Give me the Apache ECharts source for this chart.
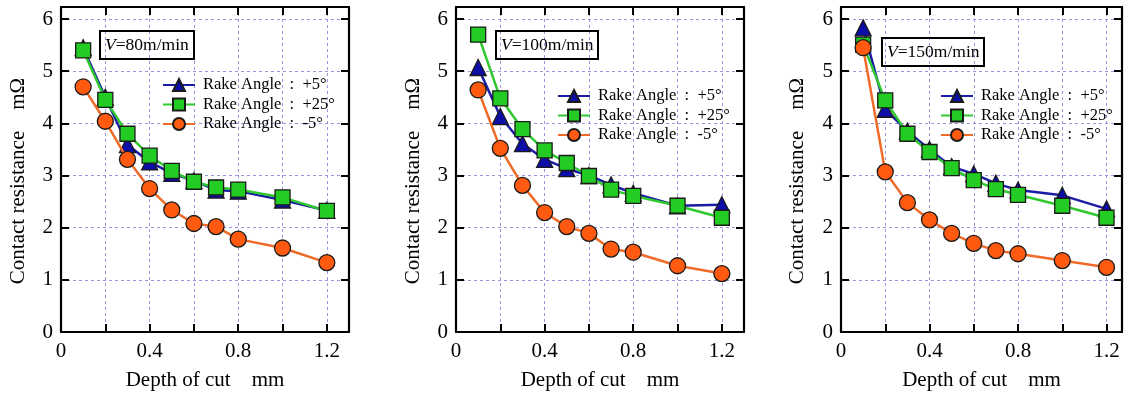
<!DOCTYPE html>
<html>
<head>
<meta charset="utf-8">
<script src="https://cdn.jsdelivr.net/npm/echarts@6/dist/echarts.min.js"></script>
<style>
html,body{margin:0;padding:0;background:#fff;}
#c{width:1126px;height:396px;}
</style>
</head>
<body>
<div id="c"></div>
<script>
// ---- data ----
const depthOfCut = [0.1, 0.2, 0.3, 0.4, 0.5, 0.6, 0.7, 0.8, 1.0, 1.2];
const seriesNames = ['Rake Angle  :  +5°', 'Rake Angle  :  +25°', 'Rake Angle  :  -5°'];
const panelTitles = ['80m/min', '100m/min', '150m/min'];

const v80_plus5  = [5.45, 4.50, 3.59, 3.26, 3.04, 2.90, 2.72, 2.70, 2.53, 2.33];
const v80_plus25 = [5.40, 4.45, 3.80, 3.38, 3.09, 2.88, 2.77, 2.73, 2.58, 2.32];
const v80_minus5 = [4.70, 4.04, 3.31, 2.75, 2.34, 2.08, 2.02, 1.78, 1.61, 1.33];

const v100_plus5  = [5.07, 4.13, 3.61, 3.31, 3.13, 3.00, 2.82, 2.66, 2.42, 2.44];
const v100_plus25 = [5.70, 4.48, 3.89, 3.48, 3.24, 2.99, 2.73, 2.61, 2.42, 2.19];
const v100_minus5 = [4.64, 3.52, 2.81, 2.29, 2.02, 1.89, 1.59, 1.53, 1.27, 1.12];

const v150_plus5  = [5.83, 4.27, 3.85, 3.50, 3.17, 3.03, 2.85, 2.72, 2.62, 2.36];
const v150_plus25 = [5.51, 4.44, 3.80, 3.45, 3.14, 2.91, 2.74, 2.63, 2.42, 2.19];
const v150_minus5 = [5.45, 3.07, 2.48, 2.15, 1.89, 1.70, 1.56, 1.50, 1.37, 1.24];

const xTickValues = [0, 0.4, 0.8, 1.2];
const yTickValues = [0, 1, 2, 3, 4, 5, 6];
const xAxisTitle = 'Depth of cut    mm';
const yAxisTitle = 'Contact resistance    mΩ';

const panelData = [
  [v80_plus5, v80_plus25, v80_minus5],
  [v100_plus5, v100_plus25, v100_minus5],
  [v150_plus5, v150_plus25, v150_minus5]
];

// ---- layout / style ----
const FONT = "'Liberation Serif','Times New Roman',serif";
const grids = [
  {left: 61, top: 7, width: 288, height: 327, xMax: 1.3},
  {left: 456, top: 7, width: 288, height: 327, xMax: 1.3},
  {left: 841, top: 7, width: 281, height: 327, xMax: 1.27}
];
const yMax = 6.23;
const boxes = [{left: 100, top: 31}, {left: 496, top: 31}, {left: 882, top: 38}];
const legends = [{left: 162, top: 76.5}, {left: 557, top: 87.5}, {left: 940, top: 87.5}];
const yTitleX = [18, 413, 797];

const styles = [
  {symbol: 'triangle', line: '#1b1ba6', fill: '#0d0da8', size: 16},
  {symbol: 'rect', line: '#2fc82f', fill: '#22cc22', size: 15},
  {symbol: 'circle', line: '#f06a28', fill: '#ff5a10', size: 16}
];

const near = (v, arr) => arr.some(t => Math.abs(t - v) < 1e-6);

const option = {
  animation: false,
  backgroundColor: '#fff',
  textStyle: {fontFamily: FONT},
  grid: [], xAxis: [], yAxis: [], series: [], legend: [], title: [], graphic: []
};

const frameLine = {show: true, onZero: false, lineStyle: {color: '#000', width: 2.2}};
const innerTick = {show: true, inside: true, length: 8, lineStyle: {color: '#000', width: 2}};
const gridLine = {show: true, lineStyle: {color: '#9797e0', width: 1, type: [3, 3]}};

grids.forEach((g, p) => {
  option.grid.push({left: g.left, top: g.top, width: g.width, height: g.height, containLabel: false});
  option.xAxis.push({
    type: 'value', gridIndex: p, position: 'bottom', min: 0, max: g.xMax, interval: 0.2,
    axisLine: frameLine, axisTick: innerTick, splitLine: gridLine,
    axisLabel: {
      margin: 9, color: '#000', fontSize: 21, fontFamily: FONT, showMaxLabel: false,
      formatter: v => near(v, xTickValues) ? (Math.abs(v) < 1e-6 ? '0' : v.toFixed(1)) : ''
    },
    name: xAxisTitle, nameLocation: 'middle', nameGap: 38,
    nameTextStyle: {color: '#000', fontSize: 21, fontFamily: FONT}
  });
  option.xAxis.push({
    type: 'value', gridIndex: p, position: 'top', min: 0, max: g.xMax, interval: 0.2,
    axisLine: frameLine, axisTick: innerTick, splitLine: {show: false}, axisLabel: {show: false}
  });
  option.yAxis.push({
    type: 'value', gridIndex: p, position: 'left', min: 0, max: yMax, interval: 1,
    axisLine: frameLine, axisTick: innerTick, splitLine: gridLine,
    axisLabel: {
      margin: 8, color: '#000', fontSize: 21, fontFamily: FONT, showMaxLabel: false,
      formatter: v => near(v, yTickValues) ? String(Math.round(v)) : ''
    }
  });
  option.yAxis.push({
    type: 'value', gridIndex: p, position: 'right', min: 0, max: yMax, interval: 1,
    axisLine: frameLine, axisTick: innerTick, splitLine: {show: false}, axisLabel: {show: false}
  });

  panelData[p].forEach((vals, s) => {
    const st = styles[s];
    option.series.push({
      type: 'line', name: seriesNames[s],
      xAxisIndex: p * 2, yAxisIndex: p * 2,
      data: depthOfCut.map((x, i) => [x, vals[i]]),
      symbol: st.symbol, symbolSize: st.size,
      lineStyle: {color: st.line, width: 2.5},
      itemStyle: {color: st.fill, borderColor: '#1a1a1a', borderWidth: 1.3},
      z: 3 + s
    });
  });

  option.legend.push({
    orient: 'vertical', left: legends[p].left, top: legends[p].top,
    padding: 0, itemGap: 2.5, itemWidth: 32, itemHeight: 15,
    selectedMode: false,
    textStyle: {color: '#000', fontSize: 16.5, lineHeight: 15, fontFamily: FONT, padding: [0, 0, 0, 3]},
    data: seriesNames
  });

  option.title.push({
    left: boxes[p].left, top: boxes[p].top,
    text: '{i|V}=' + panelTitles[p],
    padding: [5, 5, 5, 5],
    borderColor: '#000', borderWidth: 2,
    textStyle: {
      color: '#000', fontSize: 17.5, fontWeight: 'normal', fontFamily: FONT,
      rich: {i: {fontStyle: 'italic', fontSize: 17.5, fontFamily: FONT, color: '#000'}}
    }
  });

  option.graphic.push({
    type: 'text', x: yTitleX[p], y: 181, rotation: Math.PI / 2,
    style: {text: yAxisTitle, fill: '#000', font: '21px ' + FONT, textAlign: 'center', textVerticalAlign: 'middle'}
  });
});

const chart = echarts.init(document.getElementById('c'), null, {renderer: 'canvas'});
chart.setOption(option);
</script>
</body>
</html>
